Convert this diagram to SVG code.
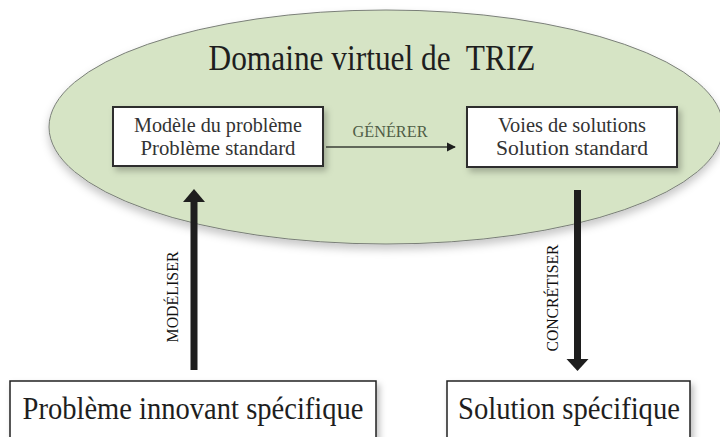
<svg xmlns="http://www.w3.org/2000/svg" width="720" height="437" viewBox="0 0 720 437">
  <style>
    .serif { font-family: "Liberation Serif", "Times New Roman", serif; }
    .box { fill: #ffffff; stroke: #2e2e2e; stroke-width: 2; }
    .boxtxt { font-size: 20.5px; fill: #333333; text-anchor: middle; }
    .bigtxt { font-size: 31px; fill: #1e1e1e; text-anchor: middle; }
    .vlabel { font-size: 17px; fill: #111111; text-anchor: middle; }
  </style>
  <defs>
    <filter id="shadow" x="-10%" y="-10%" width="125%" height="140%">
      <feDropShadow dx="3" dy="4" stdDeviation="3" flood-color="#000000" flood-opacity="0.25"/>
    </filter>
    <filter id="ellShadow" x="-5%" y="-5%" width="110%" height="120%">
      <feDropShadow dx="0" dy="5" stdDeviation="4" flood-color="#000000" flood-opacity="0.22"/>
    </filter>
    <marker id="smallHead" viewBox="0 0 10 10" refX="9" refY="5" markerWidth="9" markerHeight="12" markerUnits="userSpaceOnUse" orient="auto">
      <path d="M0,0 L10,5 L0,10 Z" fill="#1e1e1e"/>
    </marker>
  </defs>

  <!-- virtual TRIZ domain -->
  <g id="domaine">
    <ellipse cx="386" cy="127" rx="337" ry="117" fill="#d6e4c5" stroke="#7a7f78" stroke-width="1" filter="url(#ellShadow)"/>
    <text class="serif" x="372" y="70" font-size="35" fill="#1e1e1e" text-anchor="middle" textLength="327" lengthAdjust="spacingAndGlyphs" xml:space="preserve">Domaine virtuel de  TRIZ</text>
  </g>

  <g id="modele">
    <rect class="box" x="113" y="107" width="210" height="59" filter="url(#shadow)"/>
    <text class="serif boxtxt" x="218" y="132" textLength="168" lengthAdjust="spacingAndGlyphs">Modèle du problème</text>
    <text class="serif boxtxt" x="218" y="155" textLength="155" lengthAdjust="spacingAndGlyphs">Problème standard</text>
  </g>

  <g id="voies">
    <rect class="box" x="467" y="107" width="210" height="60" filter="url(#shadow)"/>
    <text class="serif boxtxt" x="572" y="132" textLength="148" lengthAdjust="spacingAndGlyphs">Voies de solutions</text>
    <text class="serif boxtxt" x="572" y="155" textLength="152" lengthAdjust="spacingAndGlyphs">Solution standard</text>
  </g>

  <g id="probleme">
    <rect x="10" y="381" width="366" height="70" fill="#ffffff" stroke="#222222" stroke-width="1.5" filter="url(#shadow)"/>
    <text class="serif bigtxt" x="193" y="419" textLength="341" lengthAdjust="spacingAndGlyphs">Problème innovant spécifique</text>
  </g>

  <g id="solution">
    <rect x="447" y="381" width="243" height="70" fill="#ffffff" stroke="#222222" stroke-width="1.5" filter="url(#shadow)"/>
    <text class="serif bigtxt" x="569" y="419" textLength="222" lengthAdjust="spacingAndGlyphs">Solution spécifique</text>
  </g>

  <!-- connectors -->
  <g id="connectors">
    <!-- GÉNÉRER -->
    <line x1="326" y1="147" x2="455" y2="147" stroke="#3a3f36" stroke-width="1.5" marker-end="url(#smallHead)"/>
    <text class="serif" x="390" y="137" font-size="16" fill="#4f5c45" text-anchor="middle" textLength="75" lengthAdjust="spacingAndGlyphs">GÉNÉRER</text>

    <!-- MODÉLISER -->
    <rect x="190.5" y="201" width="7" height="169" fill="#1e1e1e"/>
    <path d="M183,202 L194,189 L205,202 Z" fill="#1e1e1e"/>
    <text class="serif vlabel" transform="translate(178,297) rotate(-90)" textLength="91" lengthAdjust="spacingAndGlyphs">MODÉLISER</text>

    <!-- CONCRÉTISER -->
    <rect x="574" y="190" width="7" height="170" fill="#1e1e1e"/>
    <path d="M566.5,359 L577.5,371 L588.5,359 Z" fill="#1e1e1e"/>
    <text class="serif vlabel" transform="translate(558,298) rotate(-90)" textLength="107" lengthAdjust="spacingAndGlyphs">CONCRÉTISER</text>
  </g>
</svg>
